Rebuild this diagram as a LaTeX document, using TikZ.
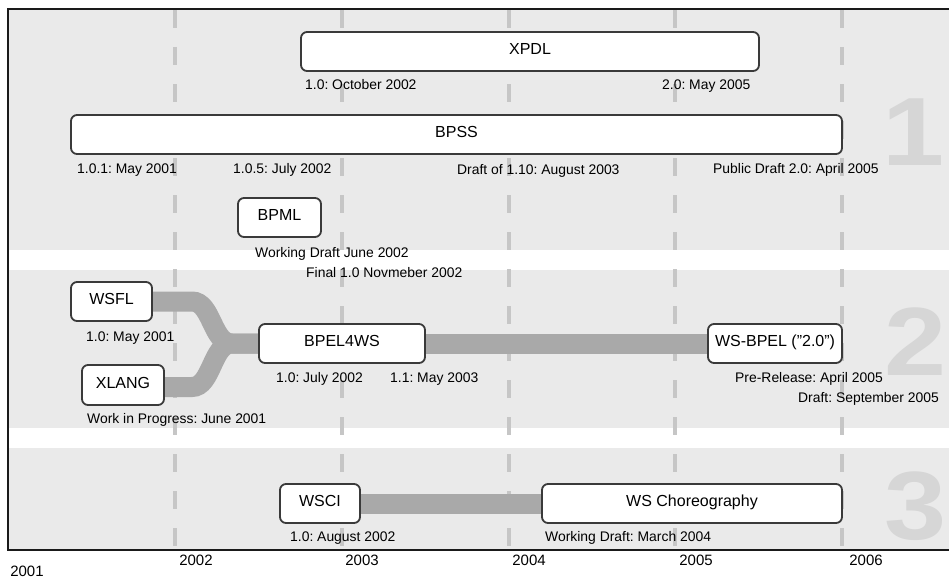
\documentclass[tikz,border=0pt]{standalone}
\usepackage{fontspec}
\usepackage{graphicx}
\setmainfont{Liberation Sans}
\frenchspacing
\pgfdeclarelayer{back}
\pgfdeclarelayer{mid}
\pgfsetlayers{back,mid,main}
\definecolor{bandgrey}{HTML}{EAEAEA}
\definecolor{dashgrey}{HTML}{C6C6C6}
\definecolor{bargrey}{HTML}{A9A9A9}
\definecolor{numgrey}{HTML}{D6D6D6}
\definecolor{boxline}{HTML}{3A3A3A}
\definecolor{frameline}{HTML}{1A1A1A}
\newcommand{\bignum}[1]{\scalebox{1.15}[1]{#1}}
\begin{document}
\begin{tikzpicture}[x=1pt,y=-1pt,
  box/.style={draw=boxline, line width=1.8pt, rounded corners=6pt, fill=white,
    minimum height=39pt, inner sep=0pt, text height=11.5pt, text depth=5pt,
    font=\fontsize{16}{19}\selectfont},
  note/.style={anchor=base west, inner sep=0pt, font=\fontsize{13.9}{16}\selectfont},
  yearlabel/.style={anchor=base, inner sep=0pt, font=\fontsize{15}{18}\selectfont},
  bandnum/.style={anchor=base, inner sep=0pt, text=numgrey,
    font=\fontsize{97}{97}\selectfont\bfseries},
  bar/.style={draw=bargrey, line width=20pt},
  yeardash/.style={draw=dashgrey, line width=4pt, dash pattern=on 18pt off 19pt},
  frame/.style={draw=frameline, line width=2pt}]

\useasboundingbox (0,0) rectangle (949,578);

% bands, year grid and frame
\begin{pgfonlayer}{back}
  \fill[bandgrey] (8,9) rectangle (949,250);
  \fill[bandgrey] (8,270) rectangle (949,428);
  \fill[bandgrey] (8,448) rectangle (949,550);
  \foreach \x in {175,342,509,675,842} \draw[yeardash] (\x,10) -- (\x,549);
  \draw[frame] (949,9) -- (8,9) -- (8,550) -- (949,550);
\end{pgfonlayer}

% band numbers
\node[bandnum] (num1) at (914,165) {\bignum{1}};
\node[bandnum] (num2) at (916,375) {\bignum{2}};
\node[bandnum] (num3) at (916,539) {\bignum{3}};

% specifications
\node[box, minimum width=458pt] (xpdl) at (530,51.5) {XPDL};
\node[box, minimum width=771pt] (bpss) at (456.5,134.5) {BPSS};
\node[box, minimum width=83pt] (bpml) at (279.5,217.5) {BPML};
\node[box, minimum width=81pt] (wsfl) at (111.5,301.5) {WSFL};
\node[box, minimum width=82pt, minimum height=40pt] (xlang) at (123,385) {XLANG};
\node[box, minimum width=166pt] (bpel4ws) at (342,343.5) {BPEL4WS};
\node[box, minimum width=134pt] (wsbpel) at (775,343.5) {WS-BPEL ("2.0")};
\node[box, minimum width=80pt] (wsci) at (320,503.5) {WSCI};
\node[box, minimum width=300pt] (wschor) at (692,503.5) {WS Choreography};

% successions
\coordinate (merge) at (232,343.5);
\begin{pgfonlayer}{mid}
  \draw[bar] (bpel4ws.east) -- (wsbpel.west);
  \draw[bar] (wsci.east) -- (wschor.west);
  \draw[bar] (wsfl.east) -- (192,301.5) .. controls (212,301.5) and (212,343.5) .. (merge) -- (bpel4ws.west);
  \draw[bar] ([yshift=-2pt]xlang.east) -- (192,387) .. controls (212,387) and (212,343.5) .. (merge) -- (bpel4ws.west);
\end{pgfonlayer}

% release notes
\node[note] (xpdl10) at (305,89) {1.0: October 2002};
\node[note] (xpdl20) at (662,89) {2.0: May 2005};
\node[note] (bpss101) at (77,173) {1.0.1: May 2001};
\node[note] (bpss105) at (233,173) {1.0.5: July 2002};
\node[note] (bpss110) at (457,174) {Draft of 1.10: August 2003};
\node[note] (bpss20) at (713,173) {Public Draft 2.0: April 2005};
\node[note] (bpmlwd) at (255,257) {Working Draft June 2002};
\node[note] (bpmlfin) at (306,277) {Final 1.0 Novmeber 2002};
\node[note] (wsfl10) at (86,341) {1.0: May 2001};
\node[note] (xlangwip) at (87,423) {Work in Progress: June 2001};
\node[note] (bpel10) at (276,382) {1.0: July 2002};
\node[note] (bpel11) at (390,382) {1.1: May 2003};
\node[note] (wsbpelpre) at (735,382) {Pre-Release: April 2005};
\node[note] (wsbpeldraft) at (798,402) {Draft: September 2005};
\node[note] (wsci10) at (290,541) {1.0: August 2002};
\node[note] (wschorwd) at (545,541) {Working Draft: March 2004};

% years
\node[yearlabel] (y2001) at (27,576) {2001};
\node[yearlabel] (y2002) at (196,565.5) {2002};
\node[yearlabel] (y2003) at (362,565.5) {2003};
\node[yearlabel] (y2004) at (529,565.5) {2004};
\node[yearlabel] (y2005) at (696,565.5) {2005};
\node[yearlabel] (y2006) at (866,565.5) {2006};
\end{tikzpicture}
\end{document}
